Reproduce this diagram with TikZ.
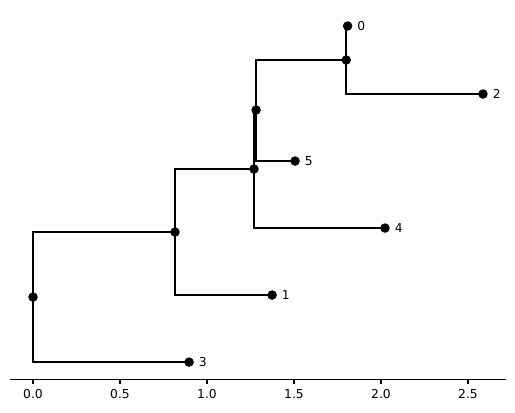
\documentclass[tikz,border=0pt]{standalone}
\usepackage{fontspec}
\setmainfont{DejaVu Sans}
\usetikzlibrary{positioning}

\begin{document}
\begin{tikzpicture}[x=3.48cm, y=-0.02cm,
        edge/.style = {line width=1.1pt},
        dot/.style = {circle, fill=black, inner sep=0pt, minimum size=0.19cm},
        leaf/.style = {right=0.19cm, font=\fontsize{7}{8}\selectfont, inner sep=0pt},
        tick/.style = {font=\fontsize{7}{8}\selectfont, inner sep=0pt}]
    \useasboundingbox (-0.1897,0) rectangle (2.770,412);
    % tree points (x = branch length, y = row in px)
    \coordinate (r) at (0.000,297);
    \coordinate (a) at (0.816,232);
    \coordinate (b) at (1.270,169);
    \coordinate (c) at (1.282,110);
    \coordinate (d) at (1.800,60);
    \coordinate (n0) at (1.808,26);
    \coordinate (n1) at (1.374,295);
    \coordinate (n2) at (2.586,94);
    \coordinate (n3) at (0.897,362);
    \coordinate (n4) at (2.023,228);
    \coordinate (n5) at (1.506,161);
    % elbows
    \draw[edge] (r) |- (a); \draw[edge] (r) |- (n3);
    \draw[edge] (a) |- (b); \draw[edge] (a) |- (n1);
    \draw[edge] (b) |- (c); \draw[edge] (b) |- (n4);
    \draw[edge] (c) |- (d); \draw[edge] (c) |- (n5);
    \draw[edge] (d) |- (n0); \draw[edge] (d) |- (n2);
    % dots
    \foreach \p in {r,a,b,c,d,n0,n1,n2,n3,n4,n5}
        \node[dot] at (\p) {};
    \foreach \p/\t in {n0/0,n1/1,n2/2,n3/3,n4/4,n5/5}
        \node[leaf] (l\t) at (\p) {\t};
    % axis
    \coordinate (axl) at (-0.132,379);
    \coordinate (axr) at (2.718,379);
    \draw[line width=0.6pt] (axl) -- (axr);
    \foreach \t in {0.0,0.5,1.0,1.5,2.0,2.5} {
        \draw[line width=0.6pt] (\t,379) -- (\t,383.5);
        \node[tick] at (\t,394) {\t};
    }
\end{tikzpicture}
\end{document}
